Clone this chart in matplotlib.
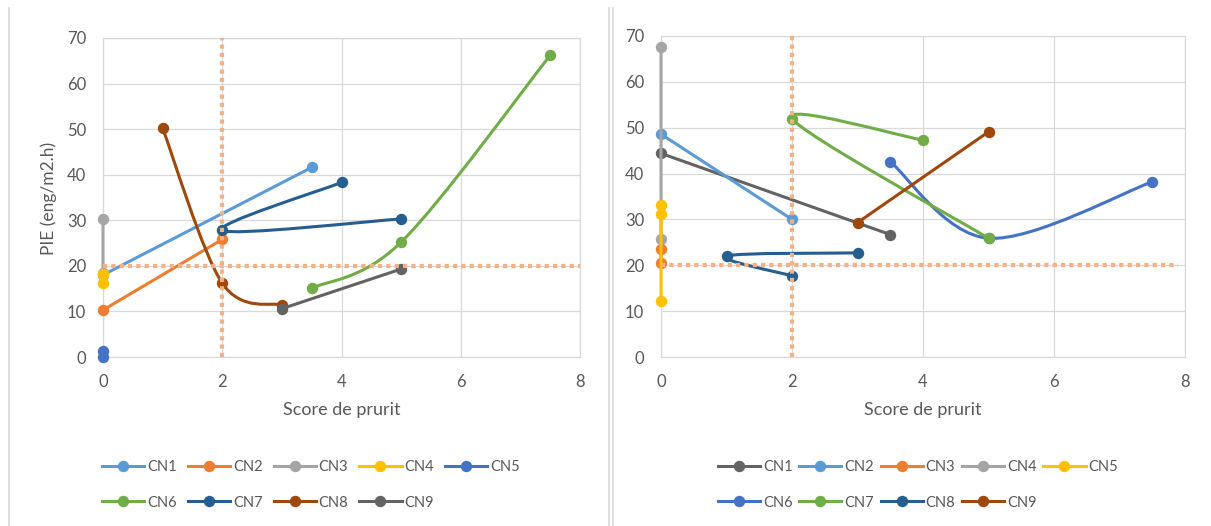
import numpy as np
import matplotlib
matplotlib.use('Agg')
from matplotlib import pyplot as plt
from matplotlib.path import Path
from matplotlib.patches import PathPatch
from matplotlib.lines import Line2D

plt.rcParams['font.family'] = ['Lato', 'DejaVu Sans']

names = ['CN1', 'CN2', 'CN3', 'CN4', 'CN5', 'CN6', 'CN7', 'CN8', 'CN9']

# left panel
left_x = [[0, 3.5], [0, 2], [0, 0], [0, 0], [0, 0],
          [3.5, 5, 7.5], [4, 2, 5], [1, 2, 3], [3, 5]]
left_y = [[18.0, 41.6], [10.3, 25.8], [30.2, 18.5], [18.3, 16.2], [1.3, 0.1],
          [15.1, 25.2, 66.2], [38.3, 27.8, 30.3], [50.2, 16.2, 11.4], [10.6, 19.3]]
left_colors = ['#5B9BD5', '#ED7D31', '#A5A5A5', '#FFC000', '#4472C4',
               '#70AD47', '#255E91', '#9E480E', '#636363']

# right panel
right_x = [[0, 3.5], [0, 2], [0, 0], [0, 0], [0, 0, 0],
           [3.5, 5, 7.5], [4, 2, 5], [3, 1, 2], [3, 5]]
right_y = [[44.4, 26.7], [48.6, 30.0], [23.6, 20.6], [67.7, 25.8], [33.2, 31.1, 12.3],
           [42.6, 25.9, 38.2], [47.3, 52.0, 25.9], [22.7, 22.0, 17.7], [29.3, 49.1]]
right_colors = ['#636363', '#5B9BD5', '#ED7D31', '#A5A5A5', '#FFC000',
                '#4472C4', '#70AD47', '#255E91', '#9E480E']

# thresholds (dotted orange)
seuil_x = 2
seuil_y = 20

TXT = '#595959'
GRID = '#D9D9D9'
W, H = 1211, 526


def smooth_path(xs, ys):
    # excel-like smoothed line (catmull-rom as cubic bezier)
    pts = np.column_stack([xs, ys]).astype(float)
    n = len(pts)
    verts = [pts[0]]
    codes = [Path.MOVETO]
    for i in range(n - 1):
        p0 = pts[max(i - 1, 0)]
        p1 = pts[i]
        p2 = pts[i + 1]
        p3 = pts[min(i + 2, n - 1)]
        verts += [p1 + (p2 - p0) / 6, p2 - (p3 - p1) / 6, p2]
        codes += [Path.CURVE4] * 3
    return Path(verts, codes)


def draw_panel(ax, xs, ys, colors, hline_end):
    ax.set_xlim(0, 8)
    ax.set_ylim(0, 70)
    ax.set_xticks(range(0, 9, 2))
    ax.set_yticks(range(0, 71, 10))
    ax.grid(True, color=GRID, lw=0.9)
    ax.set_axisbelow(True)
    for s in ax.spines.values():
        s.set_color(GRID)
        s.set_linewidth(0.9)
    ax.tick_params(length=0, labelsize=12, colors=TXT)
    ax.tick_params(axis='x', pad=12)
    ax.tick_params(axis='y', pad=12)

    for x, y, c in zip(xs, ys, colors):
        patch = PathPatch(smooth_path(x, y), fill=False, edgecolor=c, lw=2.2,
                          capstyle='round', joinstyle='round', clip_on=False, zorder=3)
        ax.add_patch(patch)
        ax.plot(x, y, 'o', color=c, ms=7.2, clip_on=False, zorder=3)

    ax.plot([seuil_x, seuil_x], [0, 70], color='#F4B183', lw=3.0,
            linestyle=(0, (1, 1)), zorder=4)
    ax.plot([0, hline_end], [seuil_y, seuil_y], color='#F4B183', lw=3.0,
            linestyle=(0, (1, 1)), zorder=4)


def add_legend(fig, colors, cx, cy, colspace):
    handles = [Line2D([], [], color=c, lw=2.2, marker='o', ms=7.2) for c in colors]
    order = [0, 5, 1, 6, 2, 7, 3, 8, 4]
    fig.legend([handles[i] for i in order], [names[i] for i in order],
               loc='center', bbox_to_anchor=(cx, cy), ncol=5, frameon=False,
               fontsize=10.5, labelcolor=TXT, handlelength=2.9, handletextpad=0.2,
               columnspacing=colspace, labelspacing=1.45, borderpad=0)


fig = plt.figure(figsize=(W / 100, H / 100), dpi=100)

ax1 = fig.add_axes([103 / W, (H - 357) / H, 477 / W, 319 / H])
draw_panel(ax1, left_x, left_y, left_colors, 8)
ax2 = fig.add_axes([661 / W, (H - 357) / H, 524 / W, 321 / H])
draw_panel(ax2, right_x, right_y, right_colors, 7.9)

fig.text(49 / W, (H - 198) / H, 'PIE (eng/m2.h)', rotation=90, ha='center', va='center',
         fontsize=12.5, color=TXT)
fig.text(341.5 / W, (H - 410) / H, 'Score de prurit', ha='center', va='center',
         fontsize=13, color=TXT)
fig.text(923 / W, (H - 410) / H, 'Score de prurit', ha='center', va='center',
         fontsize=13, color=TXT)

add_legend(fig, left_colors, 311 / W, (H - 485) / H, 0.75)
add_legend(fig, right_colors, 918 / W, (H - 485) / H, 0.45)

# chart borders
for xp in [8.5, 609, 613]:
    fig.add_artist(Line2D([xp / W, xp / W], [0, (H - 8) / H], color=GRID, lw=1.2,
                          transform=fig.transFigure))

fig.savefig('out.png', dpi=100, facecolor='white')
